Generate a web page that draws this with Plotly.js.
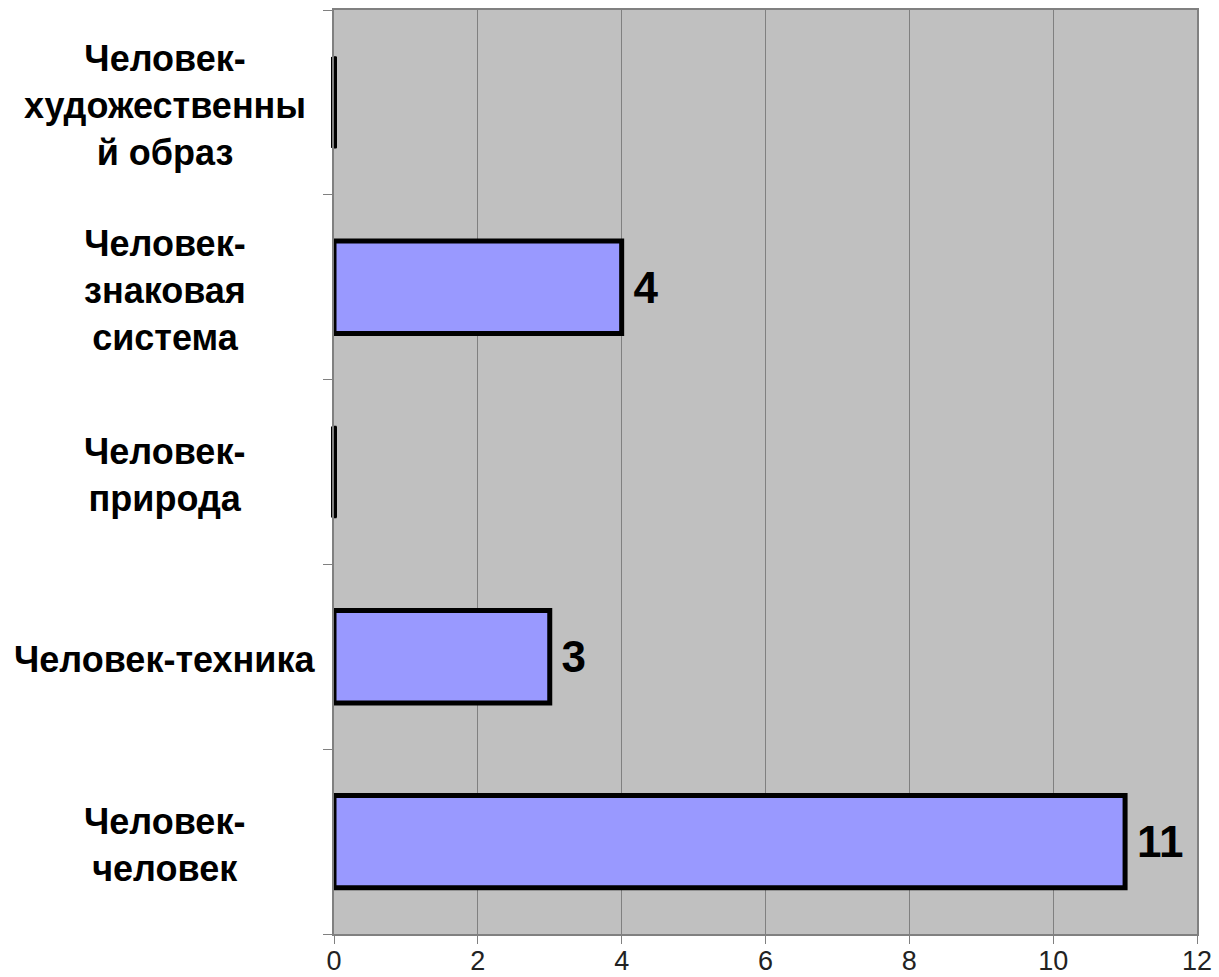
<!DOCTYPE html>
<html>
<head>
<meta charset="utf-8">
<script src="https://cdn.plot.ly/plotly-3.0.1.min.js"></script>
<style>html,body{margin:0;padding:0;background:#fff;}#chart{width:1219px;height:977px;}</style>
</head>
<body>
<div id="chart"></div>
<script>
// Data (bottom to top)
const categories = ["Человек-человек", "Человек-техника", "Человек-природа", "Человек-знаковая система", "Человек-художественный образ"];
const categoryLabels = ["Человек-<br>человек", "Человек-техника", "Человек-<br>природа", "Человек-<br>знаковая<br>система", "Человек-<br>художественны<br>й образ"];
const values = [11, 3, 0, 4, 0];
const xTicks = [0, 2, 4, 6, 8, 10, 12];

const FONT = "Liberation Sans, Arial, sans-serif";

const barTrace = {
  type: "bar",
  orientation: "h",
  y: categories,
  x: values,
  width: 0.5,
  marker: { color: "#9999FF", line: { color: "#000000", width: 5 } },
  text: values.map(v => v > 0 ? "\u2009" + String(v) : ""),
  textposition: "outside",
  constraintext: "none",
  cliponaxis: false,
  textfont: { family: FONT, size: 44, color: "#000000", weight: "bold" },
  hoverinfo: "none"
};

// zero-valued bars are drawn by the original as a thin black line at the baseline
const zeroIdx = values.map((v, i) => v === 0 ? i : -1).filter(i => i >= 0);
const zeroTrace = {
  type: "scatter",
  mode: "markers",
  x: zeroIdx.map(i => values[i]),
  y: zeroIdx.map(i => categories[i]),
  marker: { symbol: "line-ns-open", size: 65, color: "#000000", line: { color: "#000000", width: 6 } },
  cliponaxis: false,
  hoverinfo: "none",
  showlegend: false
};

const annotations = categories.map((c, i) => ({
  xref: "paper", yref: "y",
  x: -0.196, y: c,
  xanchor: "center", yanchor: "middle",
  yshift: -3,
  text: categoryLabels[i],
  showarrow: false,
  align: "center",
  font: { family: FONT, size: 36, color: "#000000", weight: "bold" }
}));

const layout = {
  width: 1219, height: 977,
  margin: { l: 334, r: 22, t: 10, b: 43, pad: 0 },
  paper_bgcolor: "#ffffff",
  plot_bgcolor: "#C0C0C0",
  showlegend: false,
  xaxis: {
    range: [0, 12],
    tickvals: xTicks,
    ticktext: xTicks.map(String),
    showgrid: true, gridcolor: "#808080", gridwidth: 1,
    zeroline: false,
    showline: true, linecolor: "#808080", linewidth: 2, mirror: true,
    ticks: "outside", ticklen: 8, tickcolor: "#808080", tickwidth: 1,
    ticklabelstandoff: -6,
    tickfont: { family: FONT, size: 27, color: "#222222" }
  },
  yaxis: {
    type: "category",
    categoryorder: "array", categoryarray: categories,
    range: [-0.5, categories.length - 0.5],
    showticklabels: false,
    tickson: "boundaries",
    ticks: "outside", ticklen: 9, tickcolor: "#808080", tickwidth: 1,
    showgrid: false, zeroline: false,
    showline: true, linecolor: "#808080", linewidth: 2, mirror: true
  },
  annotations: annotations
};

Plotly.newPlot("chart", [barTrace, zeroTrace], layout, { staticPlot: true, displayModeBar: false });
</script>
</body>
</html>
